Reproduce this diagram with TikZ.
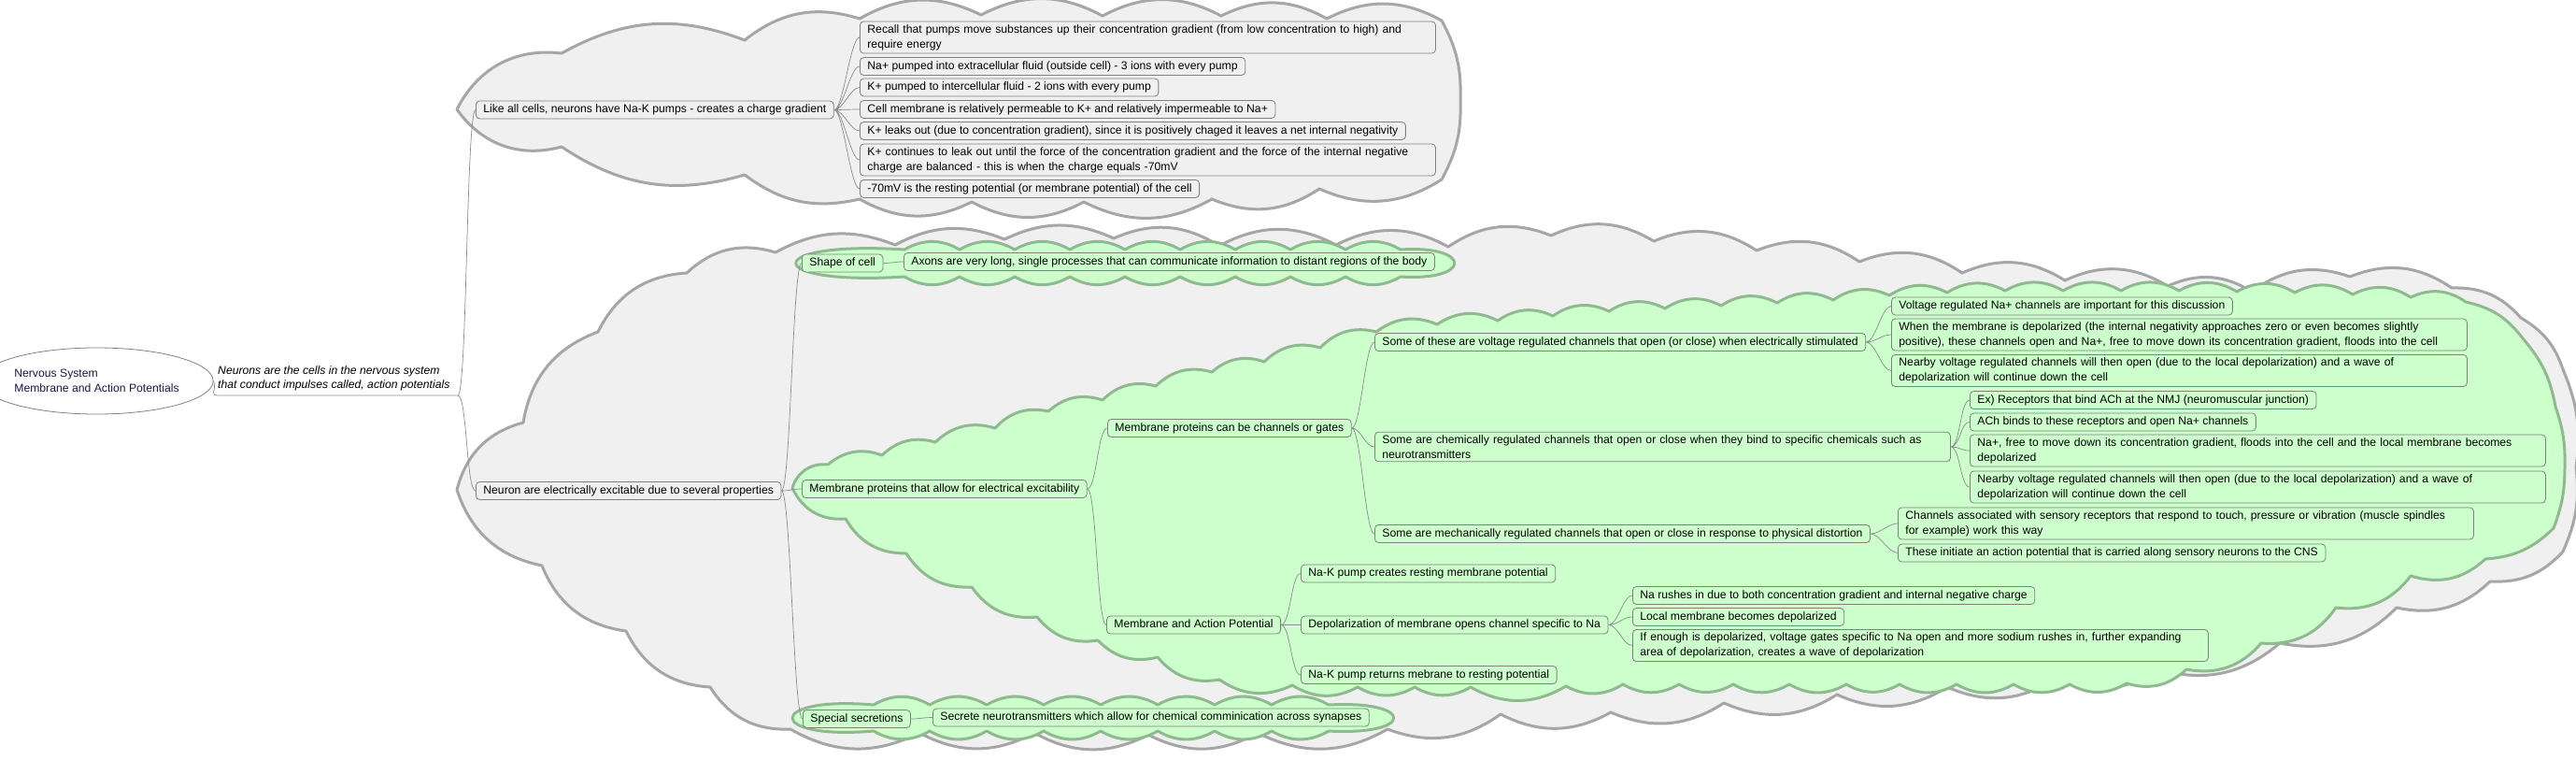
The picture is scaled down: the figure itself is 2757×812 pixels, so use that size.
\documentclass[tikz,border=0pt]{standalone}
\usepackage{fontspec}
\setmainfont{Liberation Sans}
\usepackage{tikz}
\usetikzlibrary{shapes.geometric}
\definecolor{cloudgray}{RGB}{240,240,240}
\definecolor{cloudedge}{RGB}{166,166,166}
\definecolor{mint}{RGB}{204,255,204}
\definecolor{mintedge}{RGB}{143,186,143}
\definecolor{boxline}{RGB}{128,128,128}
\definecolor{linkgray}{RGB}{140,140,140}
\definecolor{rootink}{RGB}{25,25,70}
\tikzset{
    % scallops of the cloud outlines
    lobe/.style={bend left=28},
    puff/.style={bend left=30},
    graycloud/.style={draw=cloudedge, fill=cloudgray, line width=3pt, line join=round},
    greencloud/.style={draw=mintedge, fill=mint, line width=3pt, line join=round},
    topic/.style={
        draw=boxline, line width=0.8pt, rounded corners=4pt, fill=cloudgray,
        anchor=west, inner xsep=8pt, inner ysep=3.5pt,
        text height=9pt, text depth=3pt,
        font=\fontsize{12.2}{15.7}\selectfont
    },
    topicwide/.style={topic, text height=, text depth=, text width=600pt, align=left},
    mtopic/.style={topic, fill=mint},
    mtopicwide/.style={topicwide, fill=mint},
    link/.style={draw=linkgray, line width=0.7pt},
    fan/.style={to path={.. controls +(10,0) and +(-10,0) .. (\tikztotarget)}}
}
\begin{document}
\begin{tikzpicture}[x=1pt, y=-1pt]
    \useasboundingbox (0,0) rectangle (2757,812);
    \fill[white] (0,0) rectangle (2757,812);

    % clouds
    \draw[graycloud] (489,117) to[bend left=35] (601,57) to[bend left=25] (797,43)
        to[lobe] (920,20) to[lobe] (1050,16) to[lobe] (1180,17) to[lobe] (1307,17)
        to[lobe] (1420,20) to[lobe] (1543,22) to[bend left=15] (1563,107)
        to[bend left=15] (1543,192) to[lobe] (1412,202) to[lobe] (1297,213)
        to[lobe] (1160,216) to[lobe] (1040,216) to[lobe] (920,213)
        to[bend left=25] (797,187) to[bend left=25] (601,157) to[bend left=35] (489,117) -- cycle;
    \draw[graycloud] (489,524) to[bend left=30] (560,452) to[bend left=30] (640,355)
        to[bend left=30] (735,292) to[bend left=30] (830,270) to[bend left=25] (958,262)
        to[bend left=25] (1075,256) to[bend left=25] (1192,255) to[lobe] (1305,263)
        to[lobe] (1430,262) to[lobe] (1550,264) to[lobe] (1660,252) to[lobe] (1770,258)
        to[lobe] (1880,268) to[lobe] (1990,280) to[lobe] (2100,292) to[lobe] (2210,300)
        to[lobe] (2320,306) to[lobe] (2410,312) to[lobe] (2515,296) to[lobe] (2624,308)
        to[bend left=25] (2698,340) to[bend left=20] (2743,395) to[bend left=15] (2757,500)
        to[bend left=15] (2743,590) to[bend left=25] (2665,622) to[lobe] (2565,650)
        to[lobe] (2440,688) to[lobe] (2310,716) to[lobe] (2200,726) to[lobe] (2084,735)
        to[lobe] (1966,743) to[lobe] (1845,752) to[lobe] (1724,762) to[lobe] (1606,764)
        to[lobe] (1485,780) to[lobe] (1346,784) to[lobe] (1229,786) to[lobe] (1107,784)
        to[lobe] (984,784) to[lobe] (846,780) to[bend left=30] (760,735)
        to[bend left=30] (670,675) to[bend left=30] (580,605) to[bend left=30] (489,524) -- cycle;
    \draw[greencloud] (848,522) to[bend left=40] (886,497) to[puff] (944,487) to[puff] (1001,473)
        to[puff] (1065,458) to[puff] (1122,440) to[puff] (1180,428) to[puff] (1237,413)
        to[puff] (1297,398) to[puff] (1353,387) to[puff] (1413,372) to[puff] (1473,355)
        to[puff] (1538,347) to[puff] (1603,343) to[puff] (1662,338) to[puff] (1722,333)
        to[puff] (1782,330) to[puff] (1842,327) to[puff] (1902,324) to[puff] (1962,321)
        to[puff] (2022,316) to[puff] (2084,313) to[puff] (2146,311) to[puff] (2208,311)
        to[puff] (2270,311) to[puff] (2332,311) to[puff] (2394,312) to[puff] (2456,313)
        to[puff] (2518,315) to[puff] (2580,318) to[puff] (2639,323)
        to[bend left=20] (2700,362) to[bend left=15] (2735,435) to[bend left=10] (2745,500)
        to[bend left=10] (2733,565) to[bend left=20] (2660,598) to[puff] (2580,616)
        to[puff] (2500,650) to[puff] (2420,688) to[puff] (2340,716) to[puff] (2276,731)
        to[puff] (2215,732) to[puff] (2155,732) to[puff] (2094,732) to[puff] (2033,732)
        to[puff] (1976,732) to[puff] (1915,732) to[puff] (1855,732) to[puff] (1797,732)
        to[puff] (1737,732) to[puff] (1676,734) to[puff] (1574,735) to[puff] (1514,735)
        to[puff] (1453,735) to[puff] (1383,733) to[puff] (1305,727) to[puff] (1239,703)
        to[puff] (1175,685) to[puff] (1110,660) to[puff] (1040,628) to[puff] (970,592)
        to[puff] (905,555) to[bend left=35] (848,522) -- cycle;
    \draw[greencloud] (968,267) to[puff] (1027,267) to[puff] (1086,267) to[puff] (1145,267)
        to[puff] (1204,267) to[puff] (1263,267) to[puff] (1322,267) to[puff] (1381,267)
        to[puff] (1440,267) to[puff] (1499,267) .. controls (1576,262) and (1576,301) .. (1499,296)
        to[puff] (1440,296) to[puff] (1381,296) to[puff] (1322,296) to[puff] (1263,296)
        to[puff] (1204,296) to[puff] (1145,296) to[puff] (1086,296) to[puff] (1027,296)
        to[puff] (968,296) .. controls (813,306) and (813,257) .. (968,267) -- cycle;
    \draw[greencloud] (935,754) to[puff] (995,754) to[puff] (1056,754) to[puff] (1117,754)
        to[puff] (1178,754) to[puff] (1239,754) to[puff] (1300,754) to[puff] (1361,754)
        to[puff] (1422,754) .. controls (1515,749) and (1515,787) .. (1422,782)
        to[puff] (1361,782) to[puff] (1300,782) to[puff] (1239,782) to[puff] (1178,782)
        to[puff] (1117,782) to[puff] (1056,782) to[puff] (995,782)
        to[puff] (935,782) .. controls (819,792) and (819,744) .. (935,754) -- cycle;

    % root and its note
    \node[ellipse, draw=boxline, line width=0.8pt, fill=white, minimum width=207pt,
        minimum height=71pt, inner sep=0pt, align=left, text=rootink,
        font=\fontsize{12.2}{16}\selectfont] (root) at (103.5,407.5)
        {Nervous System\\Membrane and Action Potentials};
    \node[anchor=west, align=left, inner sep=0pt, font=\fontsize{12.2}{15}\selectfont\itshape]
        (note) at (233,405) {Neurons are the cells in the nervous system\\that conduct impulses called, action potentials};
    \coordinate (elbow) at (236,423);
    \coordinate (hub) at (490,423);

    % upper branch
    \node[topic] (like) at (509,117.5) {Like all cells, neurons have Na-K pumps - creates a charge gradient};
    \node[topicwide] (recall) at (920,40) {Recall that pumps move substances up their concentration gradient (from low concentration to high) and\\require energy};
    \node[topic] (napump) at (920,71) {Na+ pumped into extracellular fluid (outside cell) - 3 ions with every pump};
    \node[topic] (kpump) at (920,93.5) {K+ pumped to intercellular fluid - 2 ions with every pump};
    \node[topic] (perm) at (920,117) {Cell membrane is relatively permeable to K+ and relatively impermeable to Na+};
    \node[topic] (leak) at (920,140) {K+ leaks out (due to concentration gradient), since it is positively chaged it leaves a net internal negativity};
    \node[topicwide] (balance) at (920,171) {K+ continues to leak out until the force of the concentration gradient and the force of the internal negative\\charge are balanced - this is when the charge equals -70mV};
    \node[topic] (rest) at (920,202) {-70mV is the resting potential (or membrane potential) of the cell};

    % lower branch
    \node[topic] (neuron) at (509,525) {Neuron are electrically excitable due to several properties};
    \node[mtopic] (shape) at (858,281.5) {Shape of cell};
    \node[mtopic] (axons) at (967,280) {Axons are very long, single processes that can communicate information to distant regions of the body};
    \node[mtopic] (protein) at (858,523) {Membrane proteins that allow for electrical excitability};
    \node[mtopic] (gates) at (1185,458) {Membrane proteins can be channels or gates};
    \node[mtopic] (volt) at (1471,366) {Some of these are voltage regulated channels that open (or close) when electrically stimulated};
    \node[mtopic] (vna) at (2024,327.5) {Voltage regulated Na+ channels are important for this discussion};
    \node[mtopicwide] (depol) at (2024,358) {When the membrane is depolarized (the internal negativity approaches zero or even becomes slightly\\positive), these channels open and Na+, free to move down its concentration gradient, floods into the cell};
    \node[mtopicwide] (waveA) at (2024,396.5) {Nearby voltage regulated channels will then open (due to the local depolarization) and a wave of\\depolarization will continue down the cell};
    \node[mtopicwide] (chem) at (1471,478) {Some are chemically regulated channels that open or close when they bind to specific chemicals such as\\neurotransmitters};
    \node[mtopic] (ach) at (2108,428) {Ex) Receptors that bind ACh at the NMJ (neuromuscular junction)};
    \node[mtopic] (achbind) at (2108,451.5) {ACh binds to these receptors and open Na+ channels};
    \node[mtopicwide] (naflood) at (2108,482) {Na+, free to move down its concentration gradient, floods into the cell and the local membrane becomes\\depolarized};
    \node[mtopicwide] (waveB) at (2108,521) {Nearby voltage regulated channels will then open (due to the local depolarization) and a wave of\\depolarization will continue down the cell};
    \node[mtopic] (mech) at (1471,571) {Some are mechanically regulated channels that open or close in response to physical distortion};
    \node[mtopicwide] (sensory) at (2031,560) {Channels associated with sensory receptors that respond to touch, pressure or vibration (muscle spindles\\for example) work this way};
    \node[mtopic] (initiate) at (2031,591.5) {These initiate an action potential that is carried along sensory neurons to the CNS};
    \node[mtopic] (action) at (1184,668.5) {Membrane and Action Potential};
    \node[mtopic] (pumpcreate) at (1392,613.5) {Na-K pump creates resting membrane potential};
    \node[mtopic] (opens) at (1392,668.5) {Depolarization of membrane opens channel specific to Na};
    \node[mtopic] (rush) at (1747,637) {Na rushes in due to both concentration gradient and internal negative charge};
    \node[mtopic] (localdep) at (1747,660) {Local membrane becomes depolarized};
    \node[mtopicwide] (enough) at (1747,690.5) {If enough is depolarized, voltage gates specific to Na open and more sodium rushes in, further expanding\\area of depolarization, creates a wave of depolarization};
    \node[mtopic] (pumpreturn) at (1392,722) {Na-K pump returns mebrane to resting potential};
    \node[mtopic] (special) at (859,769) {Special secretions};
    \node[mtopic] (secrete) at (998,767.5) {Secrete neurotransmitters which allow for chemical comminication across synapses};

    % connectors
    \draw[link] (root.east) .. controls +(4,12) and +(-14,0) .. (elbow) -- (hub);
    \draw[link] (hub) to[fan] (like.west) (hub) to[fan] (neuron.west);
    \draw[link] (like.east) to[fan] (recall.west) (like.east) to[fan] (napump.west)
        (like.east) to[fan] (kpump.west) (like.east) to[fan] (perm.west)
        (like.east) to[fan] (leak.west) (like.east) to[fan] (balance.west)
        (like.east) to[fan] (rest.west);
    \draw[link] (neuron.east) to[fan] (shape.west) (neuron.east) to[fan] (protein.west)
        (neuron.east) to[fan] (special.west);
    \draw[link] (shape.east) to[fan] (axons.west);
    \draw[link] (special.east) to[fan] (secrete.west);
    \draw[link] (protein.east) to[fan] (gates.west) (protein.east) to[fan] (action.west);
    \draw[link] (gates.east) to[fan] (volt.west) (gates.east) to[fan] (chem.west)
        (gates.east) to[fan] (mech.west);
    \draw[link] (volt.east) to[fan] (vna.west) (volt.east) to[fan] (depol.west)
        (volt.east) to[fan] (waveA.west);
    \draw[link] (chem.east) to[fan] (ach.west) (chem.east) to[fan] (achbind.west)
        (chem.east) to[fan] (naflood.west) (chem.east) to[fan] (waveB.west);
    \draw[link] (mech.east) to[fan] (sensory.west) (mech.east) to[fan] (initiate.west);
    \draw[link] (action.east) to[fan] (pumpcreate.west) (action.east) to[fan] (opens.west)
        (action.east) to[fan] (pumpreturn.west);
    \draw[link] (opens.east) to[fan] (rush.west) (opens.east) to[fan] (localdep.west)
        (opens.east) to[fan] (enough.west);
\end{tikzpicture}
\end{document}
